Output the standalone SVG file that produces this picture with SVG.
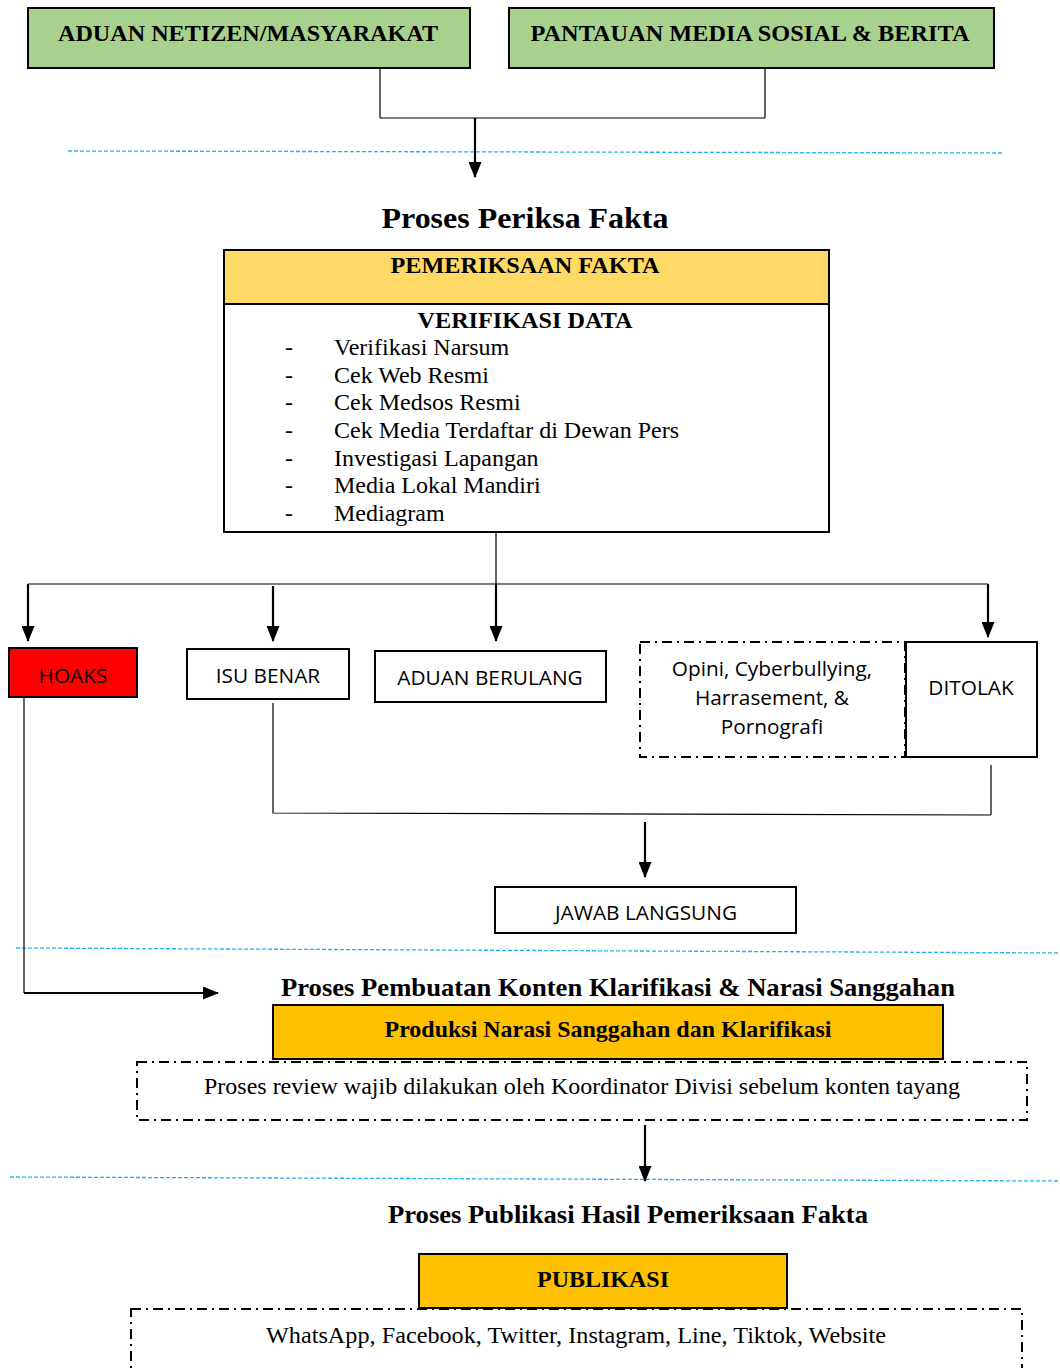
<svg xmlns="http://www.w3.org/2000/svg" width="1060" height="1368" viewBox="0 0 1060 1368">
<style>
.bx{stroke:#000;stroke-width:2}
.dd{fill:none;stroke:#000;stroke-width:2;stroke-dasharray:10 5 2 5}
.ln{fill:none;stroke:#000;stroke-width:1.2}
.ar{fill:none;stroke:#000;stroke-width:2.2;marker-end:url(#ah)}
.sep{fill:none;stroke:#1FB3EE;stroke-width:1.3;stroke-dasharray:4 2}
.tb{font-family:"Liberation Serif",serif;font-weight:bold;fill:#000;text-anchor:middle}
.tr{font-family:"Liberation Serif",serif;fill:#000}
.ts{font-family:"Open Sans",sans-serif;fill:#000;text-anchor:middle;font-size:20.8px}
</style>
<defs>
<marker id="ah" viewBox="0 0 16 13" refX="15" refY="6.5" markerWidth="16" markerHeight="13" markerUnits="userSpaceOnUse" orient="auto">
<path d="M0,0 L16,6.5 L0,13 z" fill="#000"/>
</marker>
</defs>
<rect width="1060" height="1368" fill="#fff"/>

<g id="sections">
<path class="sep" d="M68,151 L1004,153"/>
<path class="sep" d="M16,948 L1060,953"/>
<path class="sep" d="M10,1177 L1060,1181"/>
<text class="tb" x="525" y="228" font-size="30" textLength="287" lengthAdjust="spacingAndGlyphs">Proses Periksa Fakta</text>
<text class="tb" x="618" y="996" font-size="26" textLength="674" lengthAdjust="spacingAndGlyphs">Proses Pembuatan Konten Klarifikasi &amp; Narasi Sanggahan</text>
<text class="tb" x="628" y="1223" font-size="26" textLength="480" lengthAdjust="spacingAndGlyphs">Proses Publikasi Hasil Pemeriksaan Fakta</text>
</g>

<g id="connectors">
<path class="ln" d="M380,67 V118 M765,65 V118 M380,118 H765"/>
<path class="ar" d="M475,118 V177"/>
<path class="ln" d="M496,533 V584 M28,584 H988"/>
<path class="ar" d="M28,584 V641"/>
<path class="ar" d="M273,586 V641"/>
<path class="ar" d="M496,584 V641"/>
<path class="ar" d="M988,584 V637"/>
<path class="ln" d="M24,698 V993"/>
<path class="ar" d="M24,993 H218"/>
<path class="ln" d="M273,703 V813 L991,815 M991,765 V815"/>
<path class="ar" d="M645,822 V877"/>
<path class="ar" d="M645,1125 V1181"/>
</g>

<g id="n-aduan-netizen">
<rect class="bx" x="28" y="8" width="442" height="60" fill="#A9D18E"/>
<text class="tb" x="248" y="41" font-size="24" textLength="380" lengthAdjust="spacingAndGlyphs">ADUAN NETIZEN/MASYARAKAT</text>
</g>
<g id="n-pantauan">
<rect class="bx" x="509" y="8" width="485" height="60" fill="#A9D18E"/>
<text class="tb" x="750" y="41" font-size="24" textLength="439" lengthAdjust="spacingAndGlyphs">PANTAUAN MEDIA SOSIAL &amp; BERITA</text>
</g>

<g id="n-pemeriksaan">
<rect class="bx" x="224" y="250" width="605" height="282" fill="#fff"/>
<rect class="bx" x="224" y="250" width="605" height="54" fill="#FFD966"/>
<text class="tb" x="525" y="273" font-size="23" textLength="269" lengthAdjust="spacingAndGlyphs">PEMERIKSAAN FAKTA</text>
<text class="tb" x="525" y="328" font-size="24" textLength="215" lengthAdjust="spacingAndGlyphs">VERIFIKASI DATA</text>
<g class="tr" font-size="24">
<text x="285" y="355">-</text><text x="334" y="355">Verifikasi Narsum</text>
<text x="285" y="383">-</text><text x="334" y="383">Cek Web Resmi</text>
<text x="285" y="410">-</text><text x="334" y="410">Cek Medsos Resmi</text>
<text x="285" y="438">-</text><text x="334" y="438">Cek Media Terdaftar di Dewan Pers</text>
<text x="285" y="466">-</text><text x="334" y="466">Investigasi Lapangan</text>
<text x="285" y="493">-</text><text x="334" y="493">Media Lokal Mandiri</text>
<text x="285" y="521">-</text><text x="334" y="521">Mediagram</text>
</g>
</g>

<g id="n-hoaks">
<rect class="bx" x="9" y="648" width="128" height="49" fill="#FF0000"/>
<text class="ts" x="73" y="683">HOAKS</text>
</g>
<g id="n-isu-benar">
<rect class="bx" x="187" y="649" width="162" height="50" fill="#fff"/>
<text class="ts" x="268" y="683">ISU BENAR</text>
</g>
<g id="n-aduan-berulang">
<rect class="bx" x="375" y="651" width="231" height="51" fill="#fff"/>
<text class="ts" x="490" y="685">ADUAN BERULANG</text>
</g>
<g id="n-opini">
<rect class="dd" x="640" y="642" width="265" height="115"/>
<text class="ts" x="772" y="676">Opini, Cyberbullying,</text>
<text class="ts" x="772" y="705">Harrasement, &amp;</text>
<text class="ts" x="772" y="734">Pornografi</text>
</g>
<g id="n-ditolak">
<rect class="bx" x="906" y="642" width="131" height="115" fill="#fff"/>
<text class="ts" x="971" y="695">DITOLAK</text>
</g>
<g id="n-jawab">
<rect class="bx" x="495" y="887" width="301" height="46" fill="#fff"/>
<text class="ts" x="646" y="920">JAWAB LANGSUNG</text>
</g>

<g id="n-review">
<rect class="dd" x="137" y="1062" width="890" height="58"/>
<text class="tr" x="582" y="1094" font-size="24" text-anchor="middle" textLength="756" lengthAdjust="spacingAndGlyphs">Proses review wajib dilakukan oleh Koordinator Divisi sebelum konten tayang</text>
</g>
<g id="n-produksi">
<rect class="bx" x="273" y="1005" width="670" height="54" fill="#FFC000"/>
<text class="tb" x="608" y="1037" font-size="24" textLength="447" lengthAdjust="spacingAndGlyphs">Produksi Narasi Sanggahan dan Klarifikasi</text>
</g>

<g id="n-platform">
<rect class="dd" x="131" y="1309" width="891" height="70"/>
<text class="tr" x="576" y="1343" font-size="24" text-anchor="middle" textLength="620" lengthAdjust="spacingAndGlyphs">WhatsApp, Facebook, Twitter, Instagram, Line, Tiktok, Website</text>
</g>
<g id="n-publikasi">
<rect class="bx" x="419" y="1254" width="368" height="54" fill="#FFC000"/>
<text class="tb" x="603" y="1287" font-size="24" textLength="132" lengthAdjust="spacingAndGlyphs">PUBLIKASI</text>
</g>
</svg>
